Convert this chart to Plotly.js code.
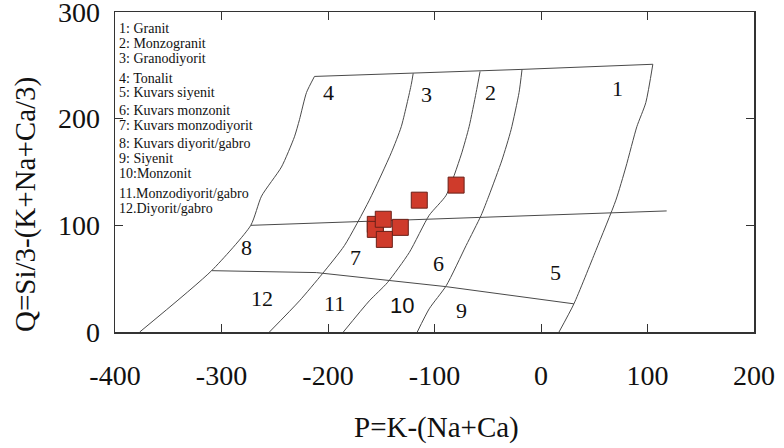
<!DOCTYPE html>
<html>
<head>
<meta charset="utf-8">
<script src="https://cdn.plot.ly/plotly-3.0.1.min.js"></script>
<style>
  html, body { margin: 0; padding: 0; background: #fff; }
  #chart { width: 784px; height: 448px; }
</style>
</head>
<body>
<div id="chart"></div>
<script>
// P-Q classification diagram (Debon & Le Fort) with sample points

// Field boundaries (P, Q)
const topLineP = [-212.7, -120, -57.2, -17.8, 105];
const topLineQ = [239.6, 242.5, 244.3, 246.2, 251];

const leftEdgeP = [-212.7, -220.2, -226.8, -231.5, -243.7, -262.4, -272.5, -309.3, -376.8];
const leftEdgeQ = [239.6, 224.5, 199, 183, 154.7, 127.4, 100, 57.5, 0];

const boundA_P = [-120, -121.8, -131.2, -140.6, -161.2, -184.6, -205.2, -226.8, -255];
const boundA_Q = [242.5, 232.1, 192.5, 168, 123.6, 81, 54.7, 29.2, 0];

const boundB_P = [-57.2, -60.9, -67.5, -75, -89, -105, -123.7, -144.3, -161.2, -185.6];
const boundB_Q = [244.3, 224.5, 192.5, 166, 128.3, 109.4, 74.5, 46.2, 29.2, 0];

const boundC_P = [-17.8, -20.6, -28.1, -36.6, -48.7, -56.2, -70.3, -89, -105, -116.2];
const boundC_Q = [246.2, 224.5, 189.6, 161.3, 128.3, 109.4, 81.1, 43.4, 21.7, 0];

const rightEdgeP = [105, 98.4, 90, 79.7, 70.3, 51.5, 30.9, 16.9];
const rightEdgeQ = [251, 215, 192.5, 154.7, 123.6, 76.4, 26.4, 0];

const midLineP = [-272.5, 118];
const midLineQ = [100, 113.5];

const lowLineP = [-309.3, -210.9, -89, 30.9];
const lowLineQ = [57.5, 55.7, 42.5, 26.4];

// Samples
const sampleP = [-155.6, -155.6, -132.1, -148.1, -147.1, -114.3, -79.7];
const sampleQ = [100.9, 96.2, 98.1, 105.7, 86.8, 123.6, 137.7];

// Field numbers
const fieldLabels = ['1', '2', '3', '4', '5', '6', '7', '8', '9', '10', '11', '12'];
const fieldP = [72.2, -47.8, -107.8, -199.6, 14, -96.5, -174.3, -276.5, -75, -130.3, -194, -262.4];
const fieldQ = [228.3, 224.5, 222.6, 224.5, 55.7, 64.2, 69.8, 79.2, 19.8, 24.5, 26.4, 31.1];

// Key to the fields
const keyLines = [
  '1: Granit', '2: Monzogranit', '3: Granodiyorit', '4: Tonalit',
  '5: Kuvars siyenit', '6: Kuvars monzonit', '7: Kuvars monzodiyorit',
  '8: Kuvars diyorit/gabro', '9: Siyenit', '10:Monzonit',
  '11.Monzodiyorit/gabro', '12.Diyorit/gabro'
];
const keyPixelY = [29, 44, 59, 78, 92, 110, 125, 143, 158, 173, 193, 208];

const serif = 'Liberation Serif';
const lineStyle = { color: '#4a4a4a', width: 1 };

function boundary(p, q, smooth) {
  return {
    x: p, y: q, type: 'scatter', mode: 'lines',
    line: Object.assign({}, lineStyle, smooth ? { shape: 'spline', smoothing: 0.6 } : {}),
    hoverinfo: 'skip', showlegend: false
  };
}

const traces = [
  boundary(topLineP, topLineQ, false),
  boundary(leftEdgeP, leftEdgeQ, true),
  boundary(boundA_P, boundA_Q, true),
  boundary(boundB_P, boundB_Q, true),
  boundary(boundC_P, boundC_Q, true),
  boundary(rightEdgeP, rightEdgeQ, true),
  boundary(midLineP, midLineQ, false),
  boundary(lowLineP, lowLineQ, false),
  {
    x: sampleP, y: sampleQ, type: 'scatter', mode: 'markers',
    marker: { symbol: 'square', size: 16, color: '#cf3b2b', line: { color: '#6a2018', width: 1 } },
    showlegend: false
  }
];

const W = 784, H = 448;
const margin = { l: 115, r: 30, t: 12, b: 116 };
const plotW = W - margin.l - margin.r;
const plotH = H - margin.t - margin.b;

const annotations = [];
fieldLabels.forEach((t, i) => {
  annotations.push({
    x: fieldP[i], y: fieldQ[i], xref: 'x', yref: 'y', text: t, showarrow: false,
    font: { family: t === '10' ? 'Liberation Sans' : serif, size: 22, color: '#111' }
  });
});
keyLines.forEach((t, i) => {
  annotations.push({
    x: 0.003, y: 1 - (keyPixelY[i] - margin.t) / plotH, xref: 'paper', yref: 'paper',
    xanchor: 'left', yanchor: 'middle', text: t, showarrow: false,
    font: { family: serif, size: 14, color: '#111' }
  });
});
// Axis titles
annotations.push({
  x: (436 - margin.l) / plotW, y: -(427 - (H - margin.b)) / plotH,
  xref: 'paper', yref: 'paper', text: 'P=K-(Na+Ca)', showarrow: false,
  xanchor: 'center', yanchor: 'middle', font: { family: serif, size: 29, color: '#111' }
});
annotations.push({
  x: -(margin.l - 25) / plotW, y: 1 - (205 - margin.t) / plotH,
  xref: 'paper', yref: 'paper', text: 'Q=Si/3-(K+Na+Ca/3)', showarrow: false, textangle: -90,
  xanchor: 'center', yanchor: 'middle', font: { family: serif, size: 29, color: '#111' }
});

const axisCommon = {
  showgrid: false, zeroline: false, showline: true, mirror: 'ticks',
  linecolor: '#333', linewidth: 1.5,
  ticks: 'inside', ticklen: 8, tickwidth: 1, tickcolor: '#333',
  ticklabeloverflow: 'allow',
  tickfont: { family: serif, size: 28, color: '#111' }
};

const layout = {
  width: W, height: H, margin: margin,
  paper_bgcolor: '#fff', plot_bgcolor: '#fff',
  xaxis: Object.assign({}, axisCommon, {
    range: [-400, 200], tickvals: [-400, -300, -200, -100, 0, 100, 200],
    ticktext: ['-400', '-300', '-200', '-100', '0', '100', '200'],
    ticklabelstandoff: 18
  }),
  yaxis: Object.assign({}, axisCommon, {
    range: [0, 300], tickvals: [0, 100, 200, 300],
    ticktext: ['0', '100', '200', '300'],
    ticklabelstandoff: 8
  }),
  annotations: annotations
};

Plotly.newPlot('chart', traces, layout, { displayModeBar: false, staticPlot: true });
</script>
</body>
</html>
